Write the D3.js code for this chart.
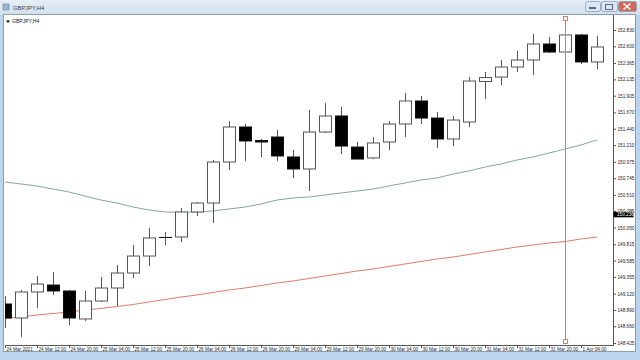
<!DOCTYPE html>
<html>
<head>
<meta charset="utf-8">
<script src="https://cdnjs.cloudflare.com/ajax/libs/d3/7.8.5/d3.min.js"></script>
<style>
body { margin: 0; background: #fff; }
svg { display: block; font-family: "Liberation Sans", Arial, sans-serif; }
</style>
</head>
<body>
<script>
// GBPJPY H4 bars, 24 Mar 04:00 .. 1 Apr 08:00
var opens  = [148.974, 148.777, 149.143, 149.241, 149.157, 148.763, 149.016, 149.199, 149.410, 149.649,
              149.910, 149.917, 150.269, 150.395, 150.972, 151.465, 151.275, 151.324, 151.043, 150.874,
              151.394, 151.620, 151.183, 151.029, 151.254, 151.507, 151.831, 151.591, 151.296, 151.535,
              152.105, 152.168, 152.309, 152.408, 152.633, 152.520, 152.760, 152.380];
var highs  = [149.086, 149.171, 149.368, 149.424, 149.171, 149.157, 149.354, 149.523, 149.804, 150.043,
              149.987, 150.325, 150.409, 151.000, 151.549, 151.507, 151.296, 151.423, 151.141, 151.704,
              151.803, 151.746, 151.254, 151.324, 151.549, 151.943, 151.901, 151.676, 151.620, 152.168,
              152.239, 152.408, 152.534, 152.774, 152.731, 152.774, 152.774, 152.745];
var lows   = [148.636, 148.509, 148.918, 149.101, 148.678, 148.735, 149.002, 148.946, 149.340, 149.509,
              149.804, 149.846, 150.212, 150.114, 150.860, 150.986, 151.043, 150.986, 150.747, 150.564,
              151.380, 151.085, 151.014, 151.014, 151.141, 151.324, 151.507, 151.169, 151.197, 151.465,
              151.859, 152.056, 152.239, 152.197, 152.506, 152.506, 152.351, 152.281];
var closes = [148.777, 149.143, 149.255, 149.157, 148.777, 149.016, 149.199, 149.410, 149.649, 149.903,
              149.910, 150.269, 150.395, 150.972, 151.465, 151.268, 151.254, 151.057, 150.874, 151.394,
              151.620, 151.197, 151.014, 151.240, 151.507, 151.831, 151.591, 151.296, 151.563, 152.112,
              152.161, 152.309, 152.408, 152.633, 152.520, 152.760, 152.380, 152.591];

// moving averages
var maGreen = [150.691, 150.663, 150.635, 150.592, 150.550, 150.494, 150.437, 150.395, 150.339, 150.297,
               150.269, 150.262, 150.269, 150.283, 150.311, 150.339, 150.381, 150.437, 150.466, 150.480,
               150.508, 150.536, 150.564, 150.592, 150.635, 150.677, 150.719, 150.747, 150.803, 150.846,
               150.902, 150.944, 151.000, 151.043, 151.099, 151.155, 151.212, 151.282];
var maRed   = [148.770, 148.791, 148.819, 148.840, 148.861, 148.889, 148.911, 148.939, 148.967, 149.002,
               149.037, 149.072, 149.101, 149.136, 149.171, 149.199, 149.234, 149.269, 149.298, 149.333,
               149.368, 149.403, 149.438, 149.466, 149.502, 149.537, 149.572, 149.607, 149.635, 149.671,
               149.706, 149.741, 149.776, 149.804, 149.832, 149.853, 149.889, 149.917];

var xLabels = ["24 Mar 2021", "24 Mar 12:00", "24 Mar 20:00", "25 Mar 04:00", "25 Mar 12:00", "25 Mar 20:00",
               "26 Mar 04:00", "26 Mar 12:00", "26 Mar 20:00", "29 Mar 04:00", "29 Mar 12:00", "29 Mar 20:00",
               "30 Mar 04:00", "30 Mar 12:00", "30 Mar 20:00", "31 Mar 04:00", "31 Mar 12:00", "31 Mar 20:00",
               "1 Apr 04:00"];
var yTicks = [152.830, 152.600, 152.365, 152.135, 151.905, 151.670, 151.440, 151.210, 150.975, 150.745,
              150.510, 150.285, 150.050, 149.815, 149.585, 149.355, 149.120, 148.890, 148.660, 148.425];
var lastPrice = 150.236;
var markerBar = 35;
var symbol = "GBPJPY,H4";

var W = 640, H = 360;
var plot = {left: 4, top: 15, right: 613, bottom: 345};

var x = d3.scaleLinear().domain([0, 37]).range([5, 597]),
    y = d3.scaleLinear().domain([148.425, 152.830]).range([343, 30]);

var svg = d3.select("body").append("svg")
    .attr("width", W)
    .attr("height", H);

// window chrome
svg.append("rect").attr("width", W).attr("height", H).attr("fill", "#bcd4ee");
var grad = svg.append("defs").append("linearGradient")
    .attr("id", "tb").attr("x1", 0).attr("y1", 0).attr("x2", 0).attr("y2", 1);
grad.append("stop").attr("offset", "0%").attr("stop-color", "#e6eef8");
grad.append("stop").attr("offset", "100%").attr("stop-color", "#d2dfee");
svg.append("rect").attr("x", 0).attr("y", 0).attr("width", W).attr("height", 15).attr("fill", "url(#tb)");
svg.append("rect").attr("x", 3).attr("y", 4).attr("width", 6).attr("height", 6)
    .attr("fill", "#9fb3c8").attr("stroke", "#6d8199").attr("stroke-width", 0.6);
svg.append("text").attr("x", 13).attr("y", 9.5)
    .attr("font-size", "5.8px").attr("fill", "#3a3a3a").text(symbol);

// title bar buttons
[[585, 15, "#dde7f3"], [601, 16, "#dde7f3"], [618, 18, "#d36a5c"]].forEach(function(b) {
    svg.append("rect").attr("x", b[0] + 0.5).attr("y", 1.5).attr("width", b[1]).attr("height", 10)
        .attr("rx", 2).attr("fill", b[2]).attr("stroke", "#8a9fb8").attr("stroke-width", 0.8);
});
svg.append("rect").attr("x", 589).attr("y", 7).attr("width", 7).attr("height", 2).attr("fill", "#5a6a80");
svg.append("rect").attr("x", 605.5).attr("y", 4.5).attr("width", 7).attr("height", 5)
    .attr("fill", "none").attr("stroke", "#5a6a80").attr("stroke-width", 1);
svg.append("path").attr("d", "M623.5,3.5L630.5,9.5M630.5,3.5L623.5,9.5")
    .attr("stroke", "#fff").attr("stroke-width", 1.5);

// chart panel
svg.append("rect").attr("x", 3.5).attr("y", 14.5).attr("width", 632).attr("height", 337)
    .attr("fill", "#fff").attr("stroke", "#8d9db0").attr("stroke-width", 1);

svg.append("defs").append("clipPath").attr("id", "plotclip")
    .append("rect").attr("x", plot.left + 1).attr("y", plot.top)
    .attr("width", plot.right - plot.left - 1).attr("height", plot.bottom - plot.top);

var g = svg.append("g").attr("clip-path", "url(#plotclip)");

// moving averages
var line = d3.line().x(function(d, i) { return x(i); }).y(function(d) { return y(d); });
g.append("path").datum(maGreen).attr("d", line)
    .attr("fill", "none").attr("stroke", "#84a99b").attr("stroke-width", 1);
g.append("path").datum(maRed).attr("d", line)
    .attr("fill", "none").attr("stroke", "#dd7f6c").attr("stroke-width", 1);

// candles
var bars = d3.range(opens.length);
g.selectAll(".wick").data(bars).enter().append("line")
    .attr("x1", function(i) { return Math.round(x(i)) + 0.5; })
    .attr("x2", function(i) { return Math.round(x(i)) + 0.5; })
    .attr("y1", function(i) { return y(highs[i]); })
    .attr("y2", function(i) { return y(lows[i]); })
    .attr("stroke", "#555").attr("stroke-width", 1);
g.selectAll(".body").data(bars).enter().append("rect")
    .attr("x", function(i) { return Math.round(x(i)) - 5.5; })
    .attr("width", 12)
    .attr("y", function(i) { return y(Math.max(opens[i], closes[i])); })
    .attr("height", function(i) { return Math.max(0.01, Math.abs(y(opens[i]) - y(closes[i]))); })
    .attr("fill", function(i) { return closes[i] < opens[i] ? "#000" : "#fff"; })
    .attr("stroke", function(i) { return closes[i] <= opens[i] ? "#111" : "#555"; })
    .attr("stroke-width", 1);

// vertical marker line
var mx = Math.round(x(markerBar)) + 0.5;
svg.append("line").attr("x1", mx).attr("x2", mx).attr("y1", 16).attr("y2", 343)
    .attr("stroke", "#da7b6e").attr("stroke-width", 1);
[16, 339].forEach(function(yy) {
    svg.append("rect").attr("x", mx - 2).attr("y", yy + 0.5).attr("width", 4).attr("height", 4)
        .attr("fill", "#fff").attr("stroke", "#da7b6e").attr("stroke-width", 1);
});

// axes
var xAxis = d3.axisBottom(x)
    .tickValues(d3.range(0, 38, 2))
    .tickSize(3).tickSizeOuter(0)
    .tickFormat(function(i) { return xLabels[i / 2]; });
var gx = svg.append("g").attr("transform", "translate(0," + plot.bottom + ")").call(xAxis);
gx.select(".domain").remove();
gx.selectAll(".tick line").attr("stroke", "#555");
gx.selectAll(".tick text")
    .attr("text-anchor", "start").attr("x", 1).attr("y", 6.4).attr("dy", 0)
    .attr("font-size", "4.7px").attr("font-family", "Liberation Sans, Arial, sans-serif").attr("fill", "#222");

var yAxis = d3.axisRight(y)
    .tickValues(yTicks)
    .tickSize(3).tickSizeOuter(0).tickPadding(1.5)
    .tickFormat(d3.format(".3f"));
var gy = svg.append("g").attr("transform", "translate(" + plot.right + ",0)").call(yAxis);
gy.select(".domain").remove();
gy.selectAll(".tick line").attr("stroke", "#555");
gy.selectAll(".tick text")
    .attr("font-size", "4.7px").attr("font-family", "Liberation Sans, Arial, sans-serif").attr("fill", "#222");

svg.append("line").attr("x1", plot.left + 1).attr("x2", plot.right + 0.5)
    .attr("y1", plot.bottom + 0.5).attr("y2", plot.bottom + 0.5).attr("stroke", "#555");
svg.append("line").attr("x1", plot.right + 0.5).attr("x2", plot.right + 0.5)
    .attr("y1", plot.top).attr("y2", plot.bottom + 0.5).attr("stroke", "#555");

// current price label (covers the lower part of the 150.285 tick label, as in MT4)
var py = y(lastPrice);
svg.append("rect").attr("x", plot.right + 0.5).attr("y", py - 2.5).attr("width", 20).attr("height", 5.5).attr("fill", "#000");
svg.append("text").attr("x", plot.right + 4).attr("y", py).attr("dy", "0.36em")
    .attr("font-size", "4.7px").attr("fill", "#fff").text(d3.format(".3f")(lastPrice));

// symbol caption inside the chart
svg.append("path").attr("d", "M6,20.5L10,20.5L8,23Z").attr("fill", "#000");
svg.append("text").attr("x", 12).attr("y", 23.3)
    .attr("font-size", "5.1px").attr("fill", "#222").text(symbol);
</script>
</body>
</html>
